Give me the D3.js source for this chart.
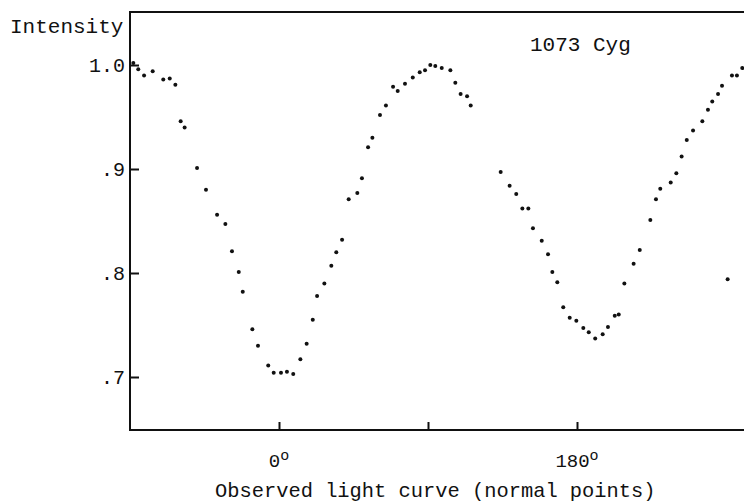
<!DOCTYPE html>
<html>
<head>
<meta charset="utf-8">
<script src="https://cdn.jsdelivr.net/npm/d3@7"></script>
<style>
  body { margin: 0; background: #fff; }
  svg { display: block; }
  text { font-family: "Liberation Mono", "Courier New", monospace; fill: #111; }
</style>
</head>
<body>
<div id="chart"></div>
<script>
// light curve of 1073 Cyg, normal points
// phase in degrees, intensity relative to max
var phase = [
  -88.0, -85.0, -81.5, -76.3, -69.9, -66.0, -62.6, -59.4, -57.0, -49.5,
  -44.1, -37.4, -32.4, -28.4, -24.3, -21.9, -16.1, -12.7, -6.5, -3.2,
  1.2, 4.8, 8.6, 12.9, 16.7, 20.4, 23.0, 27.4, 31.6, 34.6,
  38.1, 42.1, 47.3, 50.1, 53.8, 56.4, 61.0, 64.6, 68.9, 71.7,
  76.1, 80.8, 85.0, 88.2, 91.4, 94.4, 98.3, 103.5, 106.5, 109.7,
  113.6, 115.8,
  133.9, 139.3, 143.3, 147.0, 150.6, 153.4, 158.7, 162.5, 165.1, 168.1,
  171.7, 175.6, 179.6, 183.8, 187.1, 191.0, 195.5, 198.7, 202.8, 205.2,
  208.6, 214.2, 217.9, 224.3, 227.7, 230.3, 236.6, 240.0, 243.2, 246.3,
  250.1, 255.7, 259.1, 261.7, 265.2, 267.6, 273.6, 276.6, 279.8,
  271.0
];
var intensity = [
  1.002, 0.996, 0.990, 0.994, 0.986, 0.987, 0.981, 0.946, 0.940, 0.901,
  0.880, 0.856, 0.847, 0.821, 0.801, 0.782, 0.746, 0.730, 0.711, 0.704,
  0.704, 0.705, 0.703, 0.717, 0.732, 0.755, 0.778, 0.790, 0.807, 0.820,
  0.832, 0.871, 0.877, 0.891, 0.921, 0.930, 0.952, 0.961, 0.979, 0.975,
  0.982, 0.988, 0.993, 0.995, 1.000, 0.999, 0.997, 0.995, 0.983, 0.972,
  0.970, 0.961,
  0.897, 0.884, 0.876, 0.862, 0.862, 0.843, 0.831, 0.818, 0.801, 0.791,
  0.767, 0.757, 0.754, 0.747, 0.743, 0.737, 0.741, 0.748, 0.759, 0.760,
  0.790, 0.809, 0.822, 0.851, 0.871, 0.881, 0.887, 0.896, 0.912, 0.928,
  0.937, 0.946, 0.957, 0.965, 0.972, 0.980, 0.990, 0.990, 0.997,
  0.794
];

var yTicks = [0.7, 0.8, 0.9, 1.0];
var yTickLabels = [".7", ".8", ".9", "1.0"];
var xTicks = [0, 90, 180];
var xTickLabels = ["0", "", "180"];

var width = 744;
var height = 502;

// plot box, the right side is cut off in the original so no frame there
// (don't call it "top", that's window.top)
var plotLeft = 130, plotTop = 12, plotBottom = 430;

var x = d3.scaleLinear().domain([-90, 270]).range([plotLeft, 726]);
var y = d3.scaleLinear().domain([0.7, 1.0]).range([377, 65]);

var svg = d3.select("#chart")
    .append("svg")
    .attr("width", width)
    .attr("height", height);

// frame lines (left, top, bottom)
svg.append("path")
    .attr("d", "M" + width + "," + plotTop + "H" + plotLeft + "V" + plotBottom + "H" + width)
    .attr("fill", "none")
    .attr("stroke", "#111")
    .attr("stroke-width", 2);

// y axis, ticks pointing inwards
var yAxis = svg.append("g")
    .attr("transform", "translate(" + plotLeft + ",0)")
    .call(d3.axisLeft(y)
        .tickValues(yTicks)
        .tickSize(-9)
        .tickPadding(5)
        .tickFormat(function(d, i) { return yTickLabels[i]; }));
yAxis.select(".domain").remove();
yAxis.selectAll("line").attr("stroke", "#111").attr("stroke-width", 2);
yAxis.selectAll("text")
    .style("font-size", "20px")
    .style("font-family", "'Liberation Mono', monospace")
    .attr("fill", "#111");

// x axis, small ticks up from the bottom line
var xAxis = svg.append("g")
    .attr("transform", "translate(0," + plotBottom + ")")
    .call(d3.axisBottom(x)
        .tickValues(xTicks)
        .tickSize(-8)
        .tickFormat(""));
xAxis.select(".domain").remove();
xAxis.selectAll("line").attr("stroke", "#111").attr("stroke-width", 2);

// degree labels with the raised little "o"
var xl = svg.selectAll(".xlab")
    .data(xTicks.filter(function(d, i) { return xTickLabels[i] !== ""; }))
    .enter().append("text")
    .attr("class", "xlab")
    .attr("x", function(d) { return x(d); })
    .attr("y", 467)
    .attr("text-anchor", "middle")
    .style("font-size", "19px");
xl.append("tspan")
    .text(function(d) { return xTickLabels[xTicks.indexOf(d)]; });
xl.append("tspan")
    .attr("dy", -7)
    .style("font-size", "15px")
    .text("o");

// the points
svg.selectAll(".pt")
    .data(phase.map(function(p, i) { return { p: p, v: intensity[i] }; }))
    .enter().append("circle")
    .attr("class", "pt")
    .attr("cx", function(d) { return x(d.p); })
    .attr("cy", function(d) { return y(d.v); })
    .attr("r", 2)
    .attr("fill", "#111");

// texts
svg.append("text")
    .attr("x", 10)
    .attr("y", 33)
    .style("font-size", "21px")
    .text("Intensity");

svg.append("text")
    .attr("x", 530)
    .attr("y", 51)
    .style("font-size", "21px")
    .text("1073 Cyg");

svg.append("text")
    .attr("x", 215)
    .attr("y", 497)
    .style("font-size", "20.4px")
    .text("Observed light curve (normal points)");
</script>
</body>
</html>
